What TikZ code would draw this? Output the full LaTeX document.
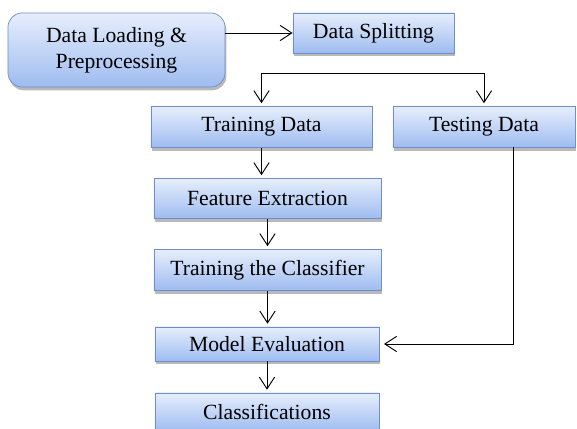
\documentclass[tikz,border=0pt]{standalone}
\usepackage{fontspec}
\setmainfont{Liberation Serif}
\usetikzlibrary{shapes,arrows.meta,shadows}

\definecolor{boxtop}{RGB}{230,238,252}
\definecolor{boxbot}{RGB}{158,188,240}
\definecolor{boxline}{RGB}{110,142,204}

\tikzset{
	stepbox/.style={rectangle, draw=boxline, line width=0.6pt,
		top color=boxtop, bottom color=boxbot,
		drop shadow={shadow xshift=1.2pt, shadow yshift=-2.8pt, opacity=0.55},
		font=\fontsize{18.5}{22}\selectfont, align=center, inner sep=0pt},
	flow/.style={->, line width=0.8pt, shorten >=2.5pt}
}

\begin{document}
\begin{tikzpicture}[x=0.03cm, y=-0.03cm, >={Straight Barb[length=10pt,width=13pt]}]
		\useasboundingbox (0,0) rectangle (577,429);

		\node[stepbox, rounded corners=12pt, minimum width=6.51cm, minimum height=2.22cm] (load) at (116.5,50) {Data Loading \&\\Preprocessing};
		\node[stepbox, minimum width=4.83cm, minimum height=1.2cm] (split) at (373.5,33) {Data Splitting};

		\node[stepbox, minimum width=6.63cm, minimum height=1.23cm] (train) at (261.5,127) {Training Data};
		\node[stepbox, minimum width=5.46cm, minimum height=1.23cm] (test) at (484,127) {Testing Data};

		\node[stepbox, minimum width=6.81cm, minimum height=1.2cm] (feat) at (267.5,198.5) {Feature Extraction};
		\node[stepbox, minimum width=6.81cm, minimum height=1.23cm] (clf) at (267.5,270) {Training the Classifier};
		\node[stepbox, minimum width=6.72cm, minimum height=1.02cm] (model) at (267,344) {Model Evaluation};
		\node[stepbox, minimum width=6.72cm, minimum height=1.14cm] (cls) at (267,412) {Classifications};

		\coordinate (fork) at (373,73);
		\coordinate (testout) at (513,147);

		\draw[flow, shorten >=0pt] (load.east |- split.west) -- (split.west);
		\draw[flow] (fork) -| (train.north);
		\draw[flow] (fork) -| (test.north);
		\draw[flow] (train.south) -- (train.south |- feat.north);
		\draw[flow] (feat.south) -- (feat.south |- clf.north);
		\draw[flow] (clf.south) -- (clf.south |- model.north);
		\draw[flow] (model.south) -- (model.south |- cls.north);
		\draw[flow, shorten >=4pt] (testout) |- (model.east);
	\end{tikzpicture}
\end{document}
